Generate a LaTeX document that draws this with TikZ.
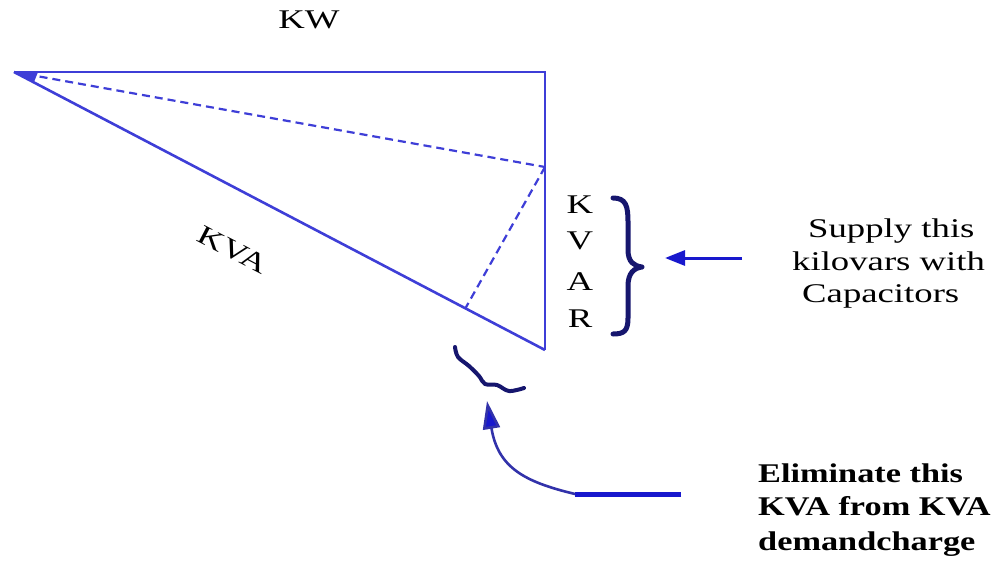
\documentclass[tikz,border=0pt]{standalone}
\usepackage{fontspec}
\usepackage{graphicx}
\usetikzlibrary{arrows.meta}
\setmainfont{Liberation Serif}
% the lettering is set wide
\newcommand{\widetext}[1]{\scalebox{1.36}[1]{#1}}
\newcommand{\widebold}[1]{\scalebox{1.27}[1]{#1}}
\definecolor{edgeblue}{RGB}{62,62,215}
\definecolor{bracenavy}{RGB}{22,22,110}
\definecolor{arrowblue}{RGB}{24,24,205}
\definecolor{curveblue}{RGB}{50,50,170}
\tikzset{
  side/.style={draw=edgeblue, line width=2.2pt},
  hidden/.style={draw=edgeblue, line width=2.2pt, dash pattern=on 8pt off 5pt},
  label/.style={font=\fontsize{27}{33}\selectfont, inner sep=0pt},
  boldlabel/.style={font=\bfseries\fontsize{27}{33}\selectfont, inner sep=0pt},
  bracestroke/.style={draw=bracenavy, line width=5pt, line cap=round, line join=round},
}
\begin{document}
\begin{tikzpicture}[x=1pt, y=-1pt]
\useasboundingbox (0,0) rectangle (1003,567);

% power triangle corners
\coordinate (apex) at (14,72);
\coordinate (topright) at (545,72);
\coordinate (bottom) at (545,350);
\coordinate (mid) at (545,167);
\coordinate (foot) at (465,309);

\draw[side] (apex) -- (topright) -- (bottom);
\draw[side, line width=2.6pt] (apex) -- (bottom);
\draw[hidden] (apex) -- (mid);
\draw[hidden] (mid) -- (foot);
\fill[edgeblue] (apex) -- (38,72) -- (34,82) -- cycle;

% side labels
\node[label, anchor=base] (kw) at (309,29) {\widetext{KW}};
\node[label, rotate=-27.6] (kva) at (233,250) {\widetext{KVA}};
\node[label, anchor=base] (k) at (580,213) {\widetext{K}};
\node[label, anchor=base] (v) at (580,249) {\widetext{V}};
\node[label, anchor=base] (a) at (580,290) {\widetext{A}};
\node[label, anchor=base] (r) at (580,327) {\widetext{R}};

% large brace beside KVAR
\draw[bracestroke] (613,198) .. controls (626,198) and (628,206) .. (628,222)
  -- (628,250) .. controls (628,262) and (634,266) .. (642,267)
  .. controls (634,268) and (628,273) .. (628,286)
  -- (628,318) .. controls (628,331) and (624,334) .. (613,334);

% small brace below the hypotenuse
\draw[bracestroke, line width=4pt] plot[smooth, tension=0.6] coordinates
  {(455,347) (458,357) (469,366) (479,376) (485,384) (497,385) (509,391) (524,388)};

% arrow towards the brace
\coordinate (supplytail) at (742,258);
\coordinate (supplytip) at (665,258);
\draw[draw=arrowblue, line width=3pt, -{Triangle[length=20pt, width=15pt]}] (supplytail) -- (supplytip);

% supply text
\node[label, anchor=base west] (s1) at (808,237) {\widetext{Supply this}};
\node[label, anchor=base west] (s2) at (792,270) {\widetext{kilovars with}};
\node[label, anchor=base west] (s3) at (802,302) {\widetext{Capacitors}};

% curved arrow towards the small brace
\coordinate (elimtail) at (681,494);
\coordinate (elimbend) at (575,494);
\coordinate (elimtip) at (487,401);
\draw[draw=arrowblue, line width=5pt] (elimtail) -- (elimbend);
\draw[draw=curveblue, line width=2.6pt, -{Triangle[length=28pt, width=17pt, fill=arrowblue]}]
  (elimbend) .. controls (525,482) and (498,468) .. (elimtip);

% eliminate text
\node[boldlabel, anchor=base west] (e1) at (758,482) {\widebold{Eliminate this}};
\node[boldlabel, anchor=base west] (e2) at (758,515) {\widebold{KVA from KVA}};
\node[boldlabel, anchor=base west] (e3) at (758,550) {\widebold{demandcharge}};
\end{tikzpicture}
\end{document}
